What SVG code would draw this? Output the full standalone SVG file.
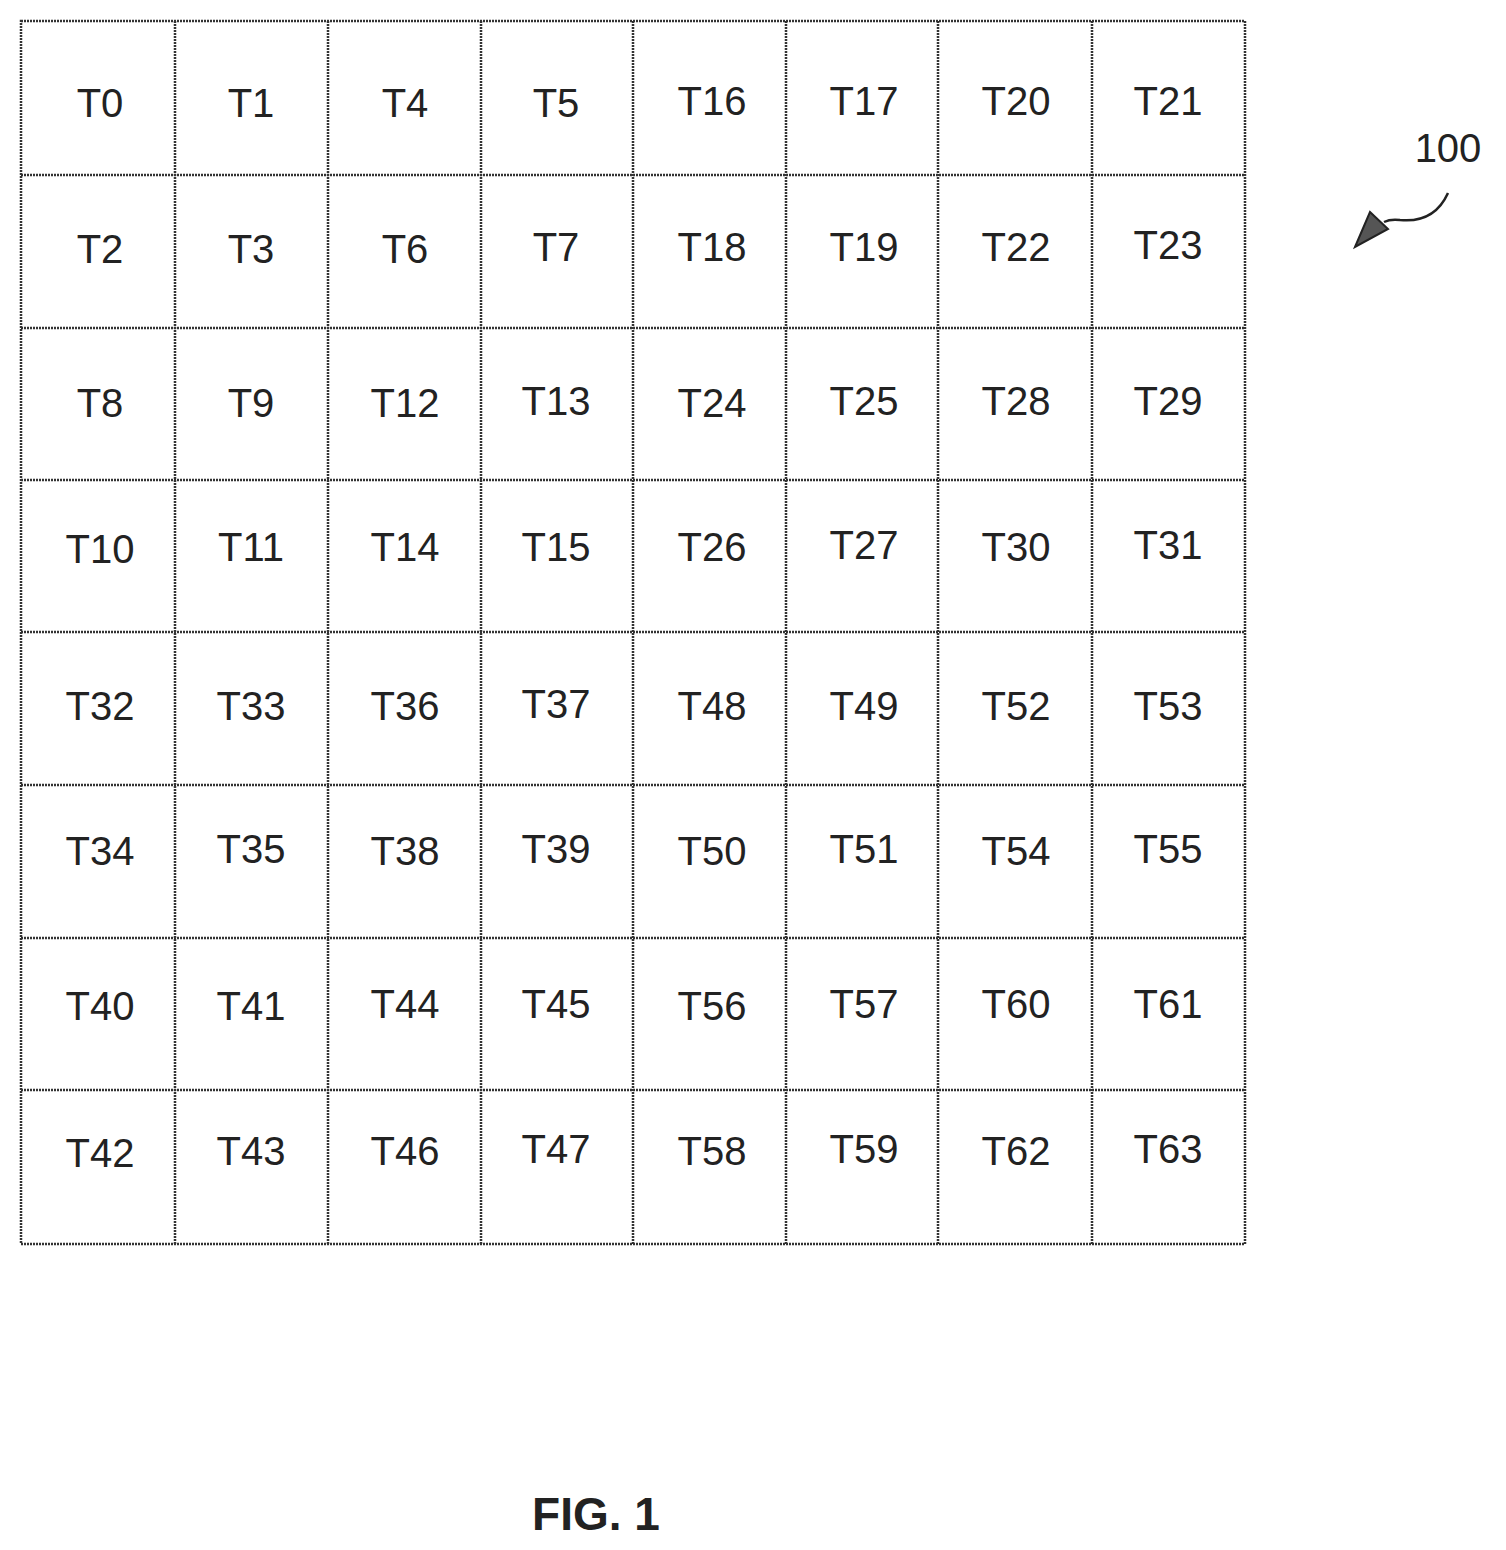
<svg xmlns="http://www.w3.org/2000/svg" width="1506" height="1550" viewBox="0 0 1506 1550">
<style>
.c{fill:none;stroke:#333;stroke-width:2.5;stroke-dasharray:2 1}
.t{font-family:"Liberation Sans",Arial,sans-serif;font-size:40px;fill:#222;text-anchor:middle}
</style>
<rect width="1506" height="1550" fill="#fff"/>
<g id="grid" class="c">
<rect x="21" y="21" width="1224" height="1223"/>
<path d="M175 21V1244M328 21V1244M481 21V1244M633 21V1244M786 21V1244M938 21V1244M1092 21V1244M21 175H1245M21 328H1245M21 480H1245M21 632H1245M21 785H1245M21 938H1245M21 1090H1245"/>
</g>
<g id="labels" class="t">
<text x="100" y="117">T0</text><text x="251" y="117">T1</text><text x="405" y="117">T4</text><text x="556" y="117">T5</text><text x="712" y="115">T16</text><text x="864" y="115">T17</text><text x="1016" y="115">T20</text><text x="1168" y="115">T21</text>
<text x="100" y="263">T2</text><text x="251" y="263">T3</text><text x="405" y="263">T6</text><text x="556" y="261">T7</text><text x="712" y="261">T18</text><text x="864" y="261">T19</text><text x="1016" y="261">T22</text><text x="1168" y="259">T23</text>
<text x="100" y="417">T8</text><text x="251" y="417">T9</text><text x="405" y="417">T12</text><text x="556" y="415">T13</text><text x="712" y="417">T24</text><text x="864" y="415">T25</text><text x="1016" y="415">T28</text><text x="1168" y="415">T29</text>
<text x="100" y="563">T10</text><text x="251" y="561">T11</text><text x="405" y="561">T14</text><text x="556" y="561">T15</text><text x="712" y="561">T26</text><text x="864" y="559">T27</text><text x="1016" y="561">T30</text><text x="1168" y="559">T31</text>
<text x="100" y="720">T32</text><text x="251" y="720">T33</text><text x="405" y="720">T36</text><text x="556" y="718">T37</text><text x="712" y="720">T48</text><text x="864" y="720">T49</text><text x="1016" y="720">T52</text><text x="1168" y="720">T53</text>
<text x="100" y="865">T34</text><text x="251" y="863">T35</text><text x="405" y="865">T38</text><text x="556" y="863">T39</text><text x="712" y="865">T50</text><text x="864" y="863">T51</text><text x="1016" y="865">T54</text><text x="1168" y="863">T55</text>
<text x="100" y="1020">T40</text><text x="251" y="1020">T41</text><text x="405" y="1018">T44</text><text x="556" y="1018">T45</text><text x="712" y="1020">T56</text><text x="864" y="1018">T57</text><text x="1016" y="1018">T60</text><text x="1168" y="1018">T61</text>
<text x="100" y="1167">T42</text><text x="251" y="1165">T43</text><text x="405" y="1165">T46</text><text x="556" y="1163">T47</text><text x="712" y="1165">T58</text><text x="864" y="1163">T59</text><text x="1016" y="1165">T62</text><text x="1168" y="1163">T63</text>
</g>
<g id="ref100">
<text x="1448" y="162" class="t">100</text>
<path d="M1448 193C1438 215 1420 222 1400 220C1392 219 1388 220 1384 222" fill="none" stroke="#222" stroke-width="2.5"/>
<polygon points="1355,247 1370,212 1388,229" fill="#555" stroke="#222" stroke-width="2"/>
</g>
<text x="596" y="1530" class="t" style="font-weight:bold;font-size:46px">FIG. 1</text>
</svg>
